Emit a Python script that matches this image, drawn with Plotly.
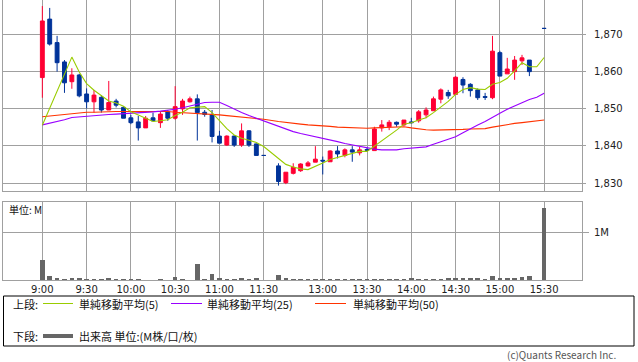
import plotly.graph_objects as go

# ---------------- data ----------------
# slot positions: 9:00..11:30 -> 0..30, gap at 31, 12:30..15:30 -> 32..68
tick_pos = [0, 6, 12, 18, 24, 30, 38, 44, 50, 56, 62, 68]
tick_text = ["9:00", "9:30", "10:00", "10:30", "11:00", "11:30",
             "13:00", "13:30", "14:00", "14:30", "15:00", "15:30"]

slot = [0, 1, 2, 3, 4, 5, 6, 7, 8, 9, 10, 11, 12, 13, 14, 15, 16, 17, 18, 19,
        20, 21, 22, 23, 24, 25, 26, 27, 28, 29, 30,
        32, 33, 34, 35, 36, 37, 38, 39, 40, 41, 42, 43, 44, 45, 46, 47, 48, 49,
        50, 51, 52, 53, 54, 55, 56, 57, 58, 59, 60, 61, 62, 63, 64, 65, 66, 68]

open_ = [1858.3, 1874.0, 1867.7, 1862.5, 1857.2, 1859.0, 1853.9, 1851.8, 1853.0, 1849.6,
         1852.0, 1850.3, 1847.5, 1846.4, 1844.8, 1847.5, 1846.2, 1849.1, 1847.4, 1849.9,
         1851.8, 1852.6, 1849.0, 1848.3, 1842.6, 1840.2, 1842.6, 1840.2, 1844.0, 1840.5,
         1837.4,
         1834.6, 1830.1, 1832.6, 1833.3, 1834.6, 1835.6, 1836.1, 1835.7, 1838.6, 1837.4,
         1838.9, 1838.1, 1839.0, 1838.7, 1844.8, 1845.1, 1846.3, 1845.6, 1846.4, 1846.7,
         1848.3, 1849.4, 1852.5, 1854.3, 1853.8, 1857.8, 1856.5, 1855.0, 1853.2, 1852.9,
         1865.0, 1859.3, 1859.9, 1862.8, 1863.0, 1871.5]
high = [1877.5, 1877.0, 1869.5, 1863.0, 1860.8, 1859.3, 1855.4, 1855.0, 1853.6, 1857.4,
        1852.6, 1850.6, 1848.3, 1848.0, 1848.0, 1848.9, 1849.1, 1849.6, 1856.0, 1852.6,
        1853.2, 1853.8, 1849.6, 1849.6, 1844.0, 1842.8, 1842.8, 1846.0, 1844.2, 1840.6,
        1837.4,
        1835.3, 1832.9, 1835.3, 1835.3, 1835.9, 1839.9, 1837.1, 1838.8, 1839.9, 1839.3,
        1839.9, 1839.7, 1839.7, 1845.1, 1846.9, 1846.9, 1846.5, 1846.9, 1847.5, 1849.6,
        1850.3, 1853.2, 1855.4, 1855.0, 1858.7, 1858.4, 1856.8, 1855.4, 1854.2, 1869.5,
        1865.5, 1863.6, 1864.1, 1864.4, 1863.0, 1871.5]
low = [1852.9, 1866.9, 1859.9, 1854.2, 1855.3, 1853.0, 1850.0, 1848.9, 1848.9, 1849.6,
       1850.3, 1847.4, 1845.8, 1841.4, 1844.8, 1846.7, 1844.8, 1846.7, 1847.0, 1848.3,
       1851.6, 1841.4, 1847.8, 1840.9, 1840.7, 1840.0, 1839.7, 1839.7, 1839.7, 1837.4,
       1837.4,
       1829.3, 1829.7, 1832.3, 1833.0, 1834.4, 1835.6, 1832.3, 1835.7, 1836.6, 1836.9,
       1835.7, 1837.4, 1838.5, 1838.7, 1843.8, 1844.2, 1845.1, 1845.3, 1846.0, 1846.2,
       1847.4, 1849.4, 1851.4, 1852.6, 1853.8, 1854.1, 1853.2, 1852.3, 1852.3, 1852.5,
       1858.7, 1859.3, 1857.7, 1861.7, 1858.7, 1871.5]
close = [1873.5, 1867.3, 1862.3, 1856.9, 1859.0, 1853.4, 1851.8, 1853.6, 1849.6, 1851.6,
         1850.9, 1847.4, 1846.2, 1844.8, 1847.4, 1846.7, 1848.5, 1847.4, 1850.5, 1852.0,
         1852.6, 1848.9, 1848.4, 1842.5, 1840.7, 1842.6, 1840.2, 1844.0, 1840.2, 1837.4,
         1837.4,
         1830.4, 1832.9, 1834.2, 1835.1, 1835.4, 1836.4, 1835.9, 1838.6, 1837.8, 1838.9,
         1838.3, 1838.9, 1838.8, 1844.5, 1845.6, 1846.3, 1845.8, 1846.9, 1846.2, 1849.1,
         1849.6, 1852.6, 1855.0, 1853.4, 1858.4, 1856.3, 1854.8, 1852.9, 1853.0, 1865.4,
         1858.7, 1860.6, 1863.0, 1863.6, 1859.9, 1871.5]

# volume in millions
volume = [0.42, 0.083, 0.035, 0.02, 0.035, 0.035, 0.02, 0.02, 0.02, 0.035,
          0.02, 0.02, 0.02, 0.02, 0.01, 0.01, 0.02, 0.01, 0.055, 0.02,
          0.01, 0.33, 0.02, 0.12, 0.035, 0.015, 0.02, 0.035, 0.02, 0.035,
          0.01,
          0.10, 0.035, 0.02, 0.02, 0.02, 0.02, 0.02, 0.02, 0.02, 0.02,
          0.02, 0.02, 0.02, 0.02, 0.02, 0.02, 0.02, 0.02, 0.035, 0.02,
          0.02, 0.02, 0.02, 0.035, 0.035, 0.035, 0.035, 0.035, 0.02, 0.083,
          0.035, 0.035, 0.035, 0.055, 0.083, 1.51]

# moving-average lines, positions include slot 67
ma_slot = slot[:-1] + [67, 68]
ma5 = [1845.5, 1850.0, 1854.5, 1859.0, 1863.8, 1859.8, 1856.7, 1854.9, 1853.5, 1852.0,
       1851.5, 1850.6, 1849.1, 1848.2, 1847.3, 1846.5, 1846.7, 1847.0, 1848.1, 1849.0,
       1850.2, 1850.3, 1850.5, 1848.9, 1846.6, 1844.6, 1842.9, 1842.0, 1841.5, 1840.9,
       1839.8,
       1836.5, 1835.0, 1834.3, 1833.8, 1833.6, 1834.6, 1835.4, 1836.3, 1836.8, 1837.5,
       1837.9, 1838.5, 1838.5, 1839.9, 1841.2, 1842.8, 1844.2, 1845.8, 1846.2, 1846.9,
       1847.5, 1848.9, 1850.5, 1851.9, 1853.8, 1855.1, 1855.6, 1855.2, 1855.1, 1856.5,
       1857.0, 1858.1, 1860.1, 1862.3, 1861.2, 1861.2, 1863.7]
ma25 = [1845.6, 1846.0, 1846.5, 1847.0, 1847.6, 1847.8, 1848.0, 1848.1, 1848.3, 1848.4,
        1848.5, 1848.6, 1848.7, 1848.8, 1849.0, 1849.1, 1849.3, 1849.5, 1849.8, 1850.2,
        1850.7, 1851.2, 1851.6, 1851.7, 1851.7, 1850.8, 1849.8, 1848.9, 1848.1, 1847.4,
        1846.6,
        1845.1, 1844.4, 1843.8, 1843.3, 1842.9, 1842.4, 1842.0, 1841.5, 1841.1, 1840.6,
        1840.2, 1839.7, 1839.3, 1839.1, 1838.9, 1838.9, 1838.9, 1839.2, 1839.3, 1839.4,
        1839.7, 1840.4, 1841.1, 1841.7, 1842.4, 1843.5, 1844.6, 1845.6, 1846.5, 1847.7,
        1848.7, 1849.8, 1850.7, 1851.7, 1852.4, 1853.0, 1854.1]
ma50 = [1847.8, 1848.0, 1848.3, 1848.5, 1848.7, 1848.8, 1849.0, 1849.0, 1849.1, 1849.1,
        1849.2, 1849.2, 1849.2, 1849.3, 1849.3, 1849.3, 1849.3, 1849.2, 1849.0, 1848.9,
        1848.8, 1848.7, 1848.6, 1848.5, 1848.3, 1848.1, 1847.9, 1847.7, 1847.5, 1847.4,
        1847.1,
        1846.5, 1846.2, 1846.0, 1845.8, 1845.6, 1845.5, 1845.3, 1845.2, 1845.0, 1844.9,
        1844.8, 1844.8, 1844.7, 1844.8, 1844.9, 1845.0, 1845.1, 1845.1, 1844.8, 1844.5,
        1844.3, 1844.2, 1844.2, 1844.2, 1844.2, 1844.4, 1844.5, 1844.5, 1844.6, 1845.0,
        1845.4, 1845.8, 1846.0, 1846.2, 1846.4, 1846.7, 1846.9]

# ---------------- styling ----------------
UP, DOWN = "#ff0033", "#003399"
C5, C25, C50 = "#99cc00", "#9900ff", "#ff3300"
GRID = "#a0a0a0"
NUMFONT = "DejaVu Sans"
JPFONT = "Noto Sans CJK JP"

W, H = 638, 362
PL, PR, PT, PB = 3, 582, 0, 280


def fx(px):
    return (px - PL) / (PR - PL)


def fy(py):
    return (PB - py) / (PB - PT)


fig = go.Figure()

up_i = [i for i in range(len(slot)) if close[i] > open_[i]]
dn_i = [i for i in range(len(slot)) if close[i] <= open_[i]]
for idxs, col in ((up_i, UP), (dn_i, DOWN)):
    fig.add_trace(go.Candlestick(
        x=[slot[i] for i in idxs], open=[open_[i] for i in idxs],
        high=[high[i] for i in idxs], low=[low[i] for i in idxs],
        close=[close[i] for i in idxs],
        increasing=dict(line=dict(color=col, width=1), fillcolor=col),
        decreasing=dict(line=dict(color=col, width=1), fillcolor=col),
        whiskerwidth=0, showlegend=False, xaxis="x", yaxis="y", hoverinfo="skip"))

for vals, col in ((ma50, C50), (ma25, C25), (ma5, C5)):
    fig.add_trace(go.Scatter(x=ma_slot, y=vals, mode="lines",
                             line=dict(color=col, width=1.1),
                             showlegend=False, xaxis="x", yaxis="y", hoverinfo="skip"))

fig.add_trace(go.Bar(x=slot, y=volume, width=0.63, marker=dict(color="#666666", line=dict(width=0)),
                     showlegend=False, xaxis="x2", yaxis="y2", hoverinfo="skip"))

xr = [-5.33, 73.13]
common_x = dict(range=xr, tickvals=tick_pos, ticktext=tick_text, showgrid=True,
                gridcolor=GRID, gridwidth=1, zeroline=False, showline=True,
                linecolor=GRID, linewidth=1, ticks="", fixedrange=True)

fig.update_layout(
    width=W, height=H,
    margin=dict(l=PL, r=W - PR, t=PT, b=H - PB),
    paper_bgcolor="white", plot_bgcolor="white",
    boxgap=0.25,
    bargap=0,
    hovermode=False,
    xaxis=dict(**common_x, domain=[0, 1], anchor="y", showticklabels=False,
               mirror=False, rangeslider=dict(visible=False)),
    yaxis=dict(domain=[fy(190.5), 1], range=[1827.99, 1879.13], side="right",
               tickvals=[1830, 1840, 1850, 1860, 1870], tickformat=",",
               ticks="outside", ticklen=3, tickcolor=GRID, ticklabelstandoff=6,
               showgrid=True, gridcolor=GRID, zeroline=False, showline=True,
               linecolor=GRID, mirror=True, fixedrange=True,
               tickfont=dict(family=NUMFONT, size=10, color="#222")),
    xaxis2=dict(**common_x, domain=[0, 1], anchor="y2", showticklabels=True,
                mirror=True, tickfont=dict(family=NUMFONT, size=10, color="#222")),
    yaxis2=dict(domain=[0, fy(201.5)], range=[0, 1.646], side="right",
                tickvals=[1], ticktext=["1M"], ticks="outside", ticklen=6,
                tickcolor=GRID, ticklabelstandoff=3,
                showgrid=True, gridcolor=GRID, zeroline=False, showline=True,
                linecolor=GRID, mirror=True, fixedrange=True,
                tickfont=dict(family=NUMFONT, size=10, color="#222")),
)

shapes = [
    dict(type="rect", xref="paper", yref="paper", x0=fx(3.5), x1=fx(634), y0=fy(296), y1=fy(346),
         line=dict(color="black", width=1), fillcolor="rgba(0,0,0,0)"),
    dict(type="line", xref="paper", yref="paper", x0=fx(43), x1=fx(73), y0=fy(303.5), y1=fy(303.5),
         line=dict(color=C5, width=1)),
    dict(type="line", xref="paper", yref="paper", x0=fx(171), x1=fx(202), y0=fy(303.5), y1=fy(303.5),
         line=dict(color=C25, width=1)),
    dict(type="line", xref="paper", yref="paper", x0=fx(315), x1=fx(346), y0=fy(303.5), y1=fy(303.5),
         line=dict(color=C50, width=1)),
    dict(type="line", xref="paper", yref="paper", x0=fx(43), x1=fx(73), y0=fy(336), y1=fy(336),
         line=dict(color="#666666", width=4)),
]
fig.update_layout(shapes=shapes)


def note(px, py, text, size=11, color="#111", xanchor="left", family=JPFONT):
    fig.add_annotation(x=fx(px), y=fy(py), xref="paper", yref="paper", text=text,
                       showarrow=False, xanchor=xanchor, yanchor="middle",
                       font=dict(family=family, size=size, color=color))


note(7, 209, "単位: M", size=10)
note(11, 303.5, "上段:")
note(77, 303.5, "単純移動平均(5)")
note(205, 303.5, "単純移動平均(25)")
note(351, 303.5, "単純移動平均(50)")
note(11, 336, "下段:")
note(77, 336, "出来高 単位:(M株/口/枚)")
note(618, 354.5, "(c)Quants Research Inc.", size=10, color="#555", xanchor="right")

fig.write_html("out.html", config={"displayModeBar": False, "staticPlot": True},
               post_script="document.body.style.margin='0';document.body.style.overflow='hidden';")
